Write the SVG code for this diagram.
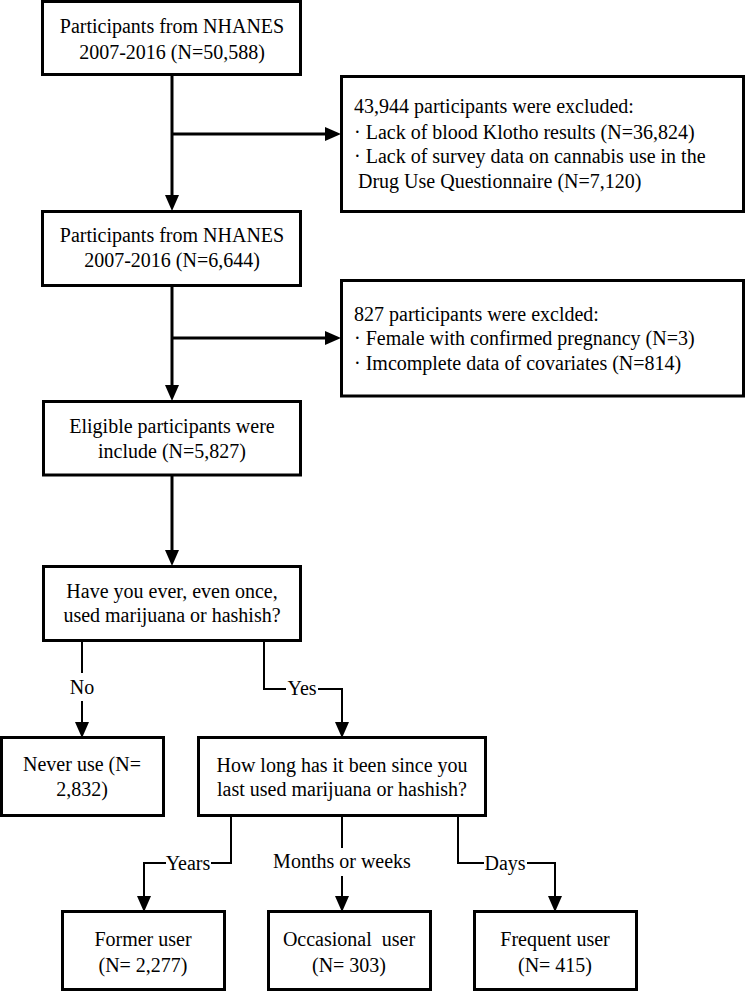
<svg xmlns="http://www.w3.org/2000/svg" width="746" height="992" viewBox="0 0 746 992">
<style>
  .box { fill: #fff; stroke: #000; stroke-width: 3; }
  .thick { fill: none; stroke: #000; stroke-width: 3; }
  .thin { fill: none; stroke: #000; stroke-width: 2; }
  .ah { fill: #000; }
</style>
<defs>
  <marker id="arr" markerUnits="userSpaceOnUse" markerWidth="16" markerHeight="14" viewBox="0 0 16 14" refX="0" refY="7" orient="auto">
    <path class="ah" d="M0,0 L16,7 L0,14 Z"/>
  </marker>
</defs>
<rect width="746" height="992" fill="#fff"/>

<g id="connectors">
  <path class="thick" d="M172,75 V195" marker-end="url(#arr)"/>
  <path class="thick" d="M172,134 H325" marker-end="url(#arr)" stroke-width="2.5"/>
  <path class="thick" d="M172,286 V385" marker-end="url(#arr)"/>
  <path class="thick" d="M172,338 H325" marker-end="url(#arr)" stroke-width="2.5"/>
  <path class="thick" d="M172,475 V550" marker-end="url(#arr)"/>
  <path class="thin" d="M82,641 V673"/>
  <path class="thin" d="M82,701 V722" marker-end="url(#arr)"/>
  <path class="thin" d="M264,641 V689 H286"/>
  <path class="thin" d="M318,689 H342 V722" marker-end="url(#arr)"/>
  <path class="thin" d="M231,815 V863 H211"/>
  <path class="thin" d="M166,863 H144 V896" marker-end="url(#arr)"/>
  <path class="thin" d="M342,815 V848"/>
  <path class="thin" d="M342,876 V896" marker-end="url(#arr)"/>
  <path class="thin" d="M458,815 V863 H484"/>
  <path class="thin" d="M527,863 H555 V896" marker-end="url(#arr)"/>
  <text font-family="'Liberation Serif', serif" font-size="20" text-anchor="middle" x="82" y="694">No</text>
  <text font-family="'Liberation Serif', serif" font-size="20" text-anchor="middle" x="302" y="695">Yes</text>
  <text font-family="'Liberation Serif', serif" font-size="20" text-anchor="middle" x="188" y="870">Years</text>
  <text font-family="'Liberation Serif', serif" font-size="20" text-anchor="middle" x="342" y="868">Months or weeks</text>
  <text font-family="'Liberation Serif', serif" font-size="20" text-anchor="middle" x="505" y="870">Days</text>
</g>

<g id="n1">
  <rect class="box" x="42.5" y="1.5" width="258" height="73"/>
  <text font-family="'Liberation Serif', serif" font-size="20" text-anchor="middle" x="172" y="33">Participants from NHANES</text>
  <text font-family="'Liberation Serif', serif" font-size="20" text-anchor="middle" x="172" y="59">2007-2016 (N=50,588)</text>
</g>

<g id="e1">
  <rect class="box" x="341.5" y="76.5" width="402" height="135"/>
  <text font-family="'Liberation Serif', serif" font-size="20" x="354" y="113">43,944 participants were excluded:</text>
  <text font-family="'Liberation Serif', serif" font-size="20" x="354" y="139">· Lack of blood Klotho results (N=36,824)</text>
  <text font-family="'Liberation Serif', serif" font-size="20" x="354" y="163">· Lack of survey data on cannabis use in the</text>
  <text font-family="'Liberation Serif', serif" font-size="20" x="358" y="188">Drug Use Questionnaire (N=7,120)</text>
</g>

<g id="n2">
  <rect class="box" x="42.5" y="211.5" width="258" height="74"/>
  <text font-family="'Liberation Serif', serif" font-size="20" text-anchor="middle" x="172" y="242">Participants from NHANES</text>
  <text font-family="'Liberation Serif', serif" font-size="20" text-anchor="middle" x="172" y="267">2007-2016 (N=6,644)</text>
</g>

<g id="e2">
  <rect class="box" x="341.5" y="280.5" width="402" height="115.5"/>
  <text font-family="'Liberation Serif', serif" font-size="20" x="354" y="321">827 participants were exclded:</text>
  <text font-family="'Liberation Serif', serif" font-size="20" x="354" y="345">· Female with confirmed pregnancy (N=3)</text>
  <text font-family="'Liberation Serif', serif" font-size="20" x="354" y="370">· Imcomplete data of covariates (N=814)</text>
</g>

<g id="n3">
  <rect class="box" x="43.5" y="401.5" width="257" height="73.5"/>
  <text font-family="'Liberation Serif', serif" font-size="20" text-anchor="middle" x="172" y="433">Eligible participants were</text>
  <text font-family="'Liberation Serif', serif" font-size="20" text-anchor="middle" x="172" y="458">include (N=5,827)</text>
</g>

<g id="n4">
  <rect class="box" x="43.5" y="566.5" width="257" height="74"/>
  <text font-family="'Liberation Serif', serif" font-size="20" text-anchor="middle" x="172" y="598">Have you ever, even once,</text>
  <text font-family="'Liberation Serif', serif" font-size="20" text-anchor="middle" x="172" y="622">used marijuana or hashish?</text>
</g>

<g id="n5">
  <rect class="box" x="1.5" y="737.5" width="162" height="78"/>
  <text font-family="'Liberation Serif', serif" font-size="20" text-anchor="middle" x="82" y="771">Never use (N=</text>
  <text font-family="'Liberation Serif', serif" font-size="20" text-anchor="middle" x="82" y="796">2,832)</text>
</g>

<g id="n6">
  <rect class="box" x="198.5" y="737.5" width="287" height="78"/>
  <text font-family="'Liberation Serif', serif" font-size="20" text-anchor="middle" x="342" y="772">How long has it been since you</text>
  <text font-family="'Liberation Serif', serif" font-size="20" text-anchor="middle" x="342" y="796">last used marijuana or hashish?</text>
</g>

<g id="n7">
  <rect class="box" x="62.5" y="911.5" width="162" height="78"/>
  <text font-family="'Liberation Serif', serif" font-size="20" text-anchor="middle" x="143" y="946">Former user</text>
  <text font-family="'Liberation Serif', serif" font-size="20" text-anchor="middle" x="143" y="972">(N= 2,277)</text>
</g>

<g id="n8">
  <rect class="box" x="268.5" y="911.5" width="162" height="78"/>
  <text font-family="'Liberation Serif', serif" font-size="20" text-anchor="middle" x="349" y="946" xml:space="preserve">Occasional  user</text>
  <text font-family="'Liberation Serif', serif" font-size="20" text-anchor="middle" x="349" y="972">(N= 303)</text>
</g>

<g id="n9">
  <rect class="box" x="474.5" y="911.5" width="162" height="78"/>
  <text font-family="'Liberation Serif', serif" font-size="20" text-anchor="middle" x="555" y="946">Frequent user</text>
  <text font-family="'Liberation Serif', serif" font-size="20" text-anchor="middle" x="555" y="972">(N= 415)</text>
</g>
</svg>
